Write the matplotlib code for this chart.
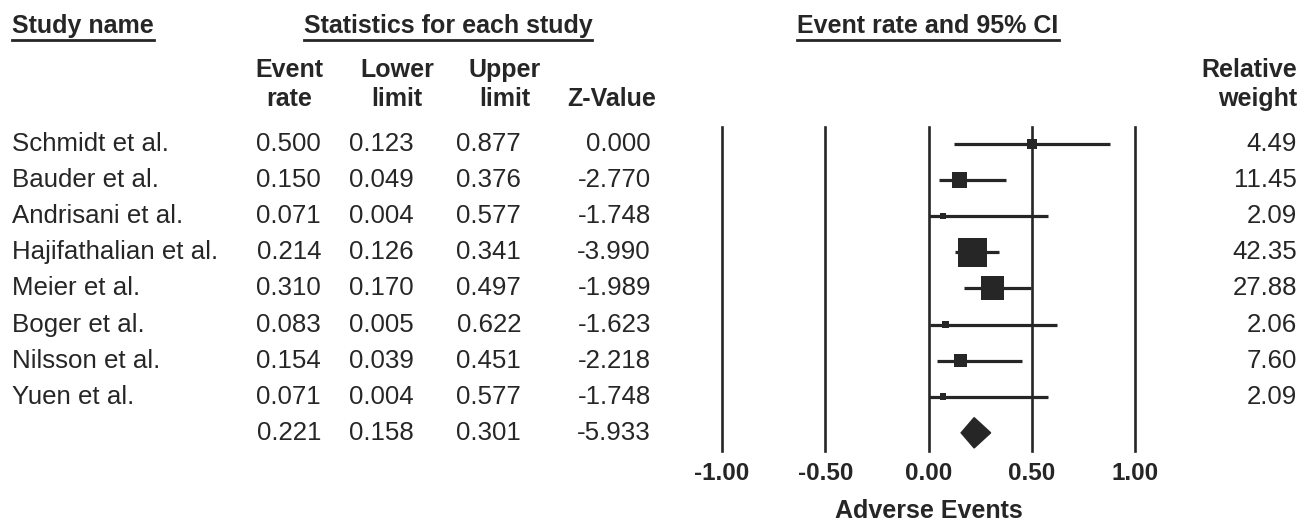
import matplotlib
matplotlib.use("Agg")
import matplotlib.pyplot as plt
import matplotlib.transforms as mtransforms
from matplotlib.patches import Polygon
from matplotlib.lines import Line2D

studies = ["Schmidt et al.", "Bauder et al.", "Andrisani et al.", "Hajifathalian et al.",
           "Meier et al.", "Boger et al.", "Nilsson et al.", "Yuen et al."]
event_rate = [0.500, 0.150, 0.071, 0.214, 0.310, 0.083, 0.154, 0.071]
lower_limit = [0.123, 0.049, 0.004, 0.126, 0.170, 0.005, 0.039, 0.004]
upper_limit = [0.877, 0.376, 0.577, 0.341, 0.497, 0.622, 0.451, 0.577]
z_value = [0.000, -2.770, -1.748, -3.990, -1.989, -1.623, -2.218, -1.748]
rel_weight = [4.49, 11.45, 2.09, 42.35, 27.88, 2.06, 7.60, 2.09]
summary = {"rate": 0.221, "lower": 0.158, "upper": 0.301, "z": -5.933}
xticks = [-1.00, -0.50, 0.00, 0.50, 1.00]

plt.rcParams['font.family'] = ['Liberation Sans', 'DejaVu Sans']
C = '#262626'
FS = 18.6   # regular text
FB = 18.0   # bold headers
FT = 17.5   # tick labels

W, H = 1303, 526
fig = plt.figure(figsize=(W / 100, H / 100), dpi=100)

# forest axes
ax = fig.add_axes([722 / W, 1 - 451 / H, 413 / W, 324 / H])
ax.set_xlim(-1, 1)
ax.set_ylim(8.504, -0.471)
for s in ax.spines.values():
    s.set_visible(False)
for t in xticks:
    ax.axvline(t, color=C, lw=1.9, zorder=1, clip_on=False)
rows = list(range(len(studies)))
ax.hlines(rows, lower_limit, upper_limit, color=C, lw=2.3, zorder=2)
ax.scatter(event_rate, rows, s=[10.6 * w for w in rel_weight], marker='s',
           color=C, zorder=3, linewidths=0)
n = len(studies)
dia = Polygon([(summary["lower"], n), (summary["rate"], n - 0.42),
               (summary["upper"], n), (summary["rate"], n + 0.42)],
              closed=True, facecolor=C, edgecolor=C, zorder=3)
ax.add_patch(dia)
ax.set_xticks(xticks)
ax.set_xticklabels([f"{t:.2f}" for t in xticks], fontsize=FT, fontweight='bold', color=C)
ax.tick_params(axis='x', length=0, pad=8)
ax.set_yticks([])
ax.set_xlabel("Adverse Events", fontsize=FB, fontweight='bold', color=C, labelpad=10)

# overlay axes for the table text
ov = fig.add_axes([0, 0, 1, 1], facecolor='none')
ov.set_xlim(0, W)
ov.set_ylim(H, 0)
ov.axis('off')
tr = mtransforms.blended_transform_factory(ov.transData, ax.transData)

kw = dict(fontsize=FS, color=C, va='center', transform=tr)
for i, name in enumerate(studies):
    ov.text(12, i, name, ha='left', **kw)
    ov.text(321, i, f"{event_rate[i]:.3f}", ha='right', **kw)
    ov.text(414, i, f"{lower_limit[i]:.3f}", ha='right', **kw)
    ov.text(521, i, f"{upper_limit[i]:.3f}", ha='right', **kw)
    ov.text(651, i, f"{z_value[i]:.3f}", ha='right', **kw)
    ov.text(1297, i, f"{rel_weight[i]:.2f}", ha='right', **kw)
ov.text(321, n, f"{summary['rate']:.3f}", ha='right', **kw)
ov.text(414, n, f"{summary['lower']:.3f}", ha='right', **kw)
ov.text(521, n, f"{summary['upper']:.3f}", ha='right', **kw)
ov.text(651, n, f"{summary['z']:.3f}", ha='right', **kw)

hk = dict(fontsize=FB, color=C, fontweight='bold', va='center')
headers = [
    ov.text(12, 26, "Study name", ha='left', **hk),
    ov.text(448, 26, "Statistics for each study", ha='center', **hk),
    ov.text(928, 26, "Event rate and 95% CI", ha='center', **hk),
]
sub = [("Event", "rate", 289), ("Lower", "limit", 397), ("Upper", "limit", 505)]
for a, b, x in sub:
    ov.text(x, 70, a, ha='center', **hk)
    ov.text(x, 99, b, ha='center', **hk)
ov.text(612, 99, "Z-Value", ha='center', **hk)
ov.text(1297, 70, "Relative", ha='right', **hk)
ov.text(1297, 99, "weight", ha='right', **hk)

fig.canvas.draw()
inv = ov.transData.inverted()
for t in headers:
    bb = t.get_window_extent()
    (x0, y0), (x1, y1) = inv.transform([(bb.x0, bb.y0), (bb.x1, bb.y1)])
    ov.add_line(Line2D([x0, x1], [40, 40], color=C, lw=2.0))

fig.savefig("out.png", dpi=100, facecolor='white')
